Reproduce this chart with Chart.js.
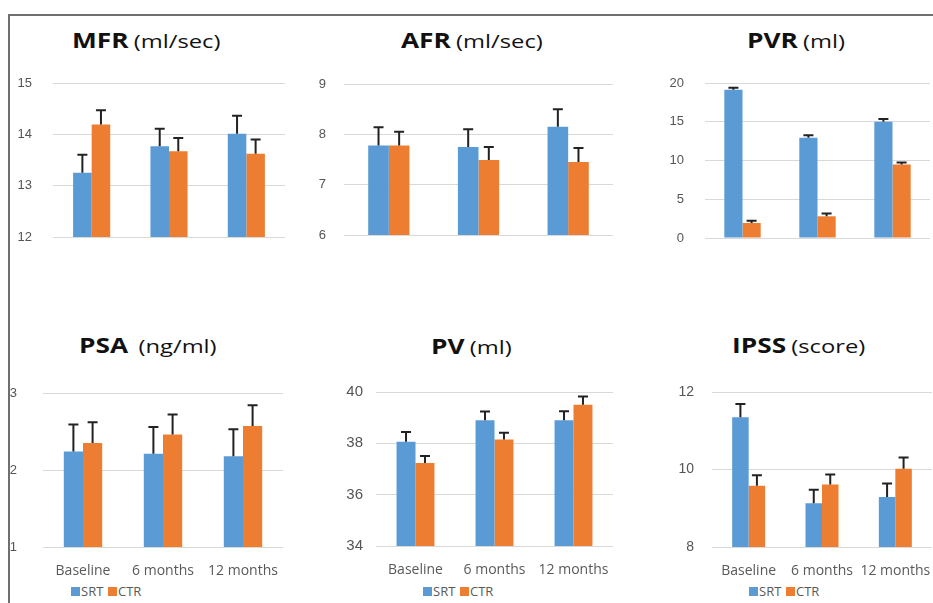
<!DOCTYPE html>
<html lang="en">
<head>
<meta charset="UTF-8">
<title>SRT vs CTR outcomes</title>
<style>
  body { margin:0; background:#fff; width:933px; height:603px; position:relative; overflow:hidden; font-family:'Open Sans', sans-serif; }
  .frame { position:absolute; left:8px; top:14px; width:940px; height:600px; border-top:2px solid #6f6f6f; border-left:2px solid #6f6f6f; }
  .box { position:absolute; }
  .ttl { position:absolute; white-space:nowrap; transform:scaleX(1.25); transform-origin:left top; color:#111; line-height:21px; }
  .ttl b { font-size:21px; font-weight:700; }
  .ttl span { font-size:19px; }
  .lg { position:absolute; font-size:13px; color:#595959; line-height:16px; }
  .sq { position:absolute; width:9px; height:9px; }
</style>
</head>
<body>
<div class="frame"></div>

<div class="ttl" style="left:72px;top:30px"><b>MFR</b> <span>(ml/sec)</span></div>
<div class="ttl" style="left:401px;top:30px"><b>AFR</b> <span>(ml/sec)</span></div>
<div class="ttl" style="left:747px;top:30px"><b>PVR</b> <span>(ml)</span></div>
<div class="ttl" style="left:79px;top:335px"><b>PSA</b>&nbsp; <span>(ng/ml)</span></div>
<div class="ttl" style="left:431px;top:336px"><b>PV</b> <span>(ml)</span></div>
<div class="ttl" style="left:732px;top:335px"><b>IPSS</b> <span>(score)</span></div>

<div class="box" id="box-mfr"><canvas id="mfr"></canvas></div>
<div class="box" id="box-afr"><canvas id="afr"></canvas></div>
<div class="box" id="box-pvr"><canvas id="pvr"></canvas></div>
<div class="box" id="box-psa"><canvas id="psa"></canvas></div>
<div class="box" id="box-pv"><canvas id="pv"></canvas></div>
<div class="box" id="box-ipss"><canvas id="ipss"></canvas></div>

<div id="legends"></div>

<script src="https://cdn.jsdelivr.net/npm/chart.js"></script>
<script>
  // categories and series
  const categories = ['Baseline', '6 months', '12 months'];
  const seriesNames = ['SRT', 'CTR'];
  const seriesColors = ['#5B9BD5', '#ED7D31'];

  // values (mean and upper error)
  const mfrSRT = [13.25, 13.77, 14.01];
  const mfrSRTErr = [0.35, 0.34, 0.35];
  const mfrCTR = [14.19, 13.67, 13.62];
  const mfrCTRErr = [0.28, 0.26, 0.28];

  const afrSRT = [7.78, 7.75, 8.15];
  const afrSRTErr = [0.36, 0.35, 0.35];
  const afrCTR = [7.78, 7.49, 7.45];
  const afrCTRErr = [0.27, 0.26, 0.28];

  const pvrSRT = [19.14, 12.95, 15.0];
  const pvrSRTErr = [0.26, 0.3, 0.35];
  const pvrCTR = [1.94, 2.8, 9.47];
  const pvrCTRErr = [0.3, 0.35, 0.26];

  const psaSRT = [2.24, 2.21, 2.18];
  const psaSRTErr = [0.35, 0.35, 0.35];
  const psaCTR = [2.35, 2.46, 2.57];
  const psaCTRErr = [0.27, 0.26, 0.27];

  const pvSRT = [38.06, 38.9, 38.9];
  const pvSRTErr = [0.38, 0.34, 0.35];
  const pvCTR = [37.23, 38.15, 39.5];
  const pvCTRErr = [0.28, 0.26, 0.32];

  const ipssSRT = [11.35, 9.13, 9.29];
  const ipssSRTErr = [0.34, 0.35, 0.35];
  const ipssCTR = [9.58, 9.61, 10.02];
  const ipssCTRErr = [0.27, 0.26, 0.29];

  // axis ranges [min, max, step]
  const mfrAxis = [12, 15, 1];
  const afrAxis = [6, 9, 1];
  const pvrAxis = [0, 20, 5];
  const psaAxis = [1, 3, 1];
  const pvAxis = [34, 40, 2];
  const ipssAxis = [8, 12, 2];

  // layout of each panel (plot area in page pixels)
  const AXIS_W = 50;
  const panels = [
    { id: 'mfr',  srt: [mfrSRT, mfrSRTErr],   ctr: [mfrCTR, mfrCTRErr],   axis: mfrAxis,  plot: [53, 285, 83, 237],  pad: 21, fs: 13, cat: 0.48,  xl: false },
    { id: 'afr',  srt: [afrSRT, afrSRTErr],   ctr: [afrCTR, afrCTRErr],   axis: afrAxis,  plot: [344, 613, 84, 235], pad: 18, fs: 13, cat: 0.46,  xl: false },
    { id: 'pvr',  srt: [pvrSRT, pvrSRTErr],   ctr: [pvrCTR, pvrCTRErr],   axis: pvrAxis,  plot: [705, 930, 83, 238], pad: 21, fs: 13, cat: 0.485, xl: false },
    { id: 'psa',  srt: [psaSRT, psaSRTErr],   ctr: [psaCTR, psaCTRErr],   axis: psaAxis,  plot: [43, 283, 393, 547], pad: 26, fs: 13, cat: 0.48,  xl: true, legend: 71 },
    { id: 'pv',   srt: [pvSRT, pvSRTErr],     ctr: [pvCTR, pvCTRErr],     axis: pvAxis,   plot: [376, 613, 392, 546], pad: 13, fs: 15, cat: 0.48, xl: true, legend: 423 },
    { id: 'ipss', srt: [ipssSRT, ipssSRTErr], ctr: [ipssCTR, ipssCTRErr], axis: ipssAxis, plot: [712, 932, 392, 547], pad: 18, fs: 14, cat: 0.45, xl: true, legend: 749 }
  ];

  // upper error bars drawn through the y scale
  const errorBars = {
    id: 'errorBars',
    afterDatasetsDraw(chart) {
      const ctx = chart.ctx;
      const y = chart.scales.y;
      chart.data.datasets.forEach((ds, i) => {
        chart.getDatasetMeta(i).data.forEach((bar, j) => {
          const top = y.getPixelForValue(ds.data[j] + ds.errors[j]);
          ctx.save();
          ctx.strokeStyle = '#222';
          ctx.lineWidth = 2;
          ctx.beginPath();
          ctx.moveTo(bar.x, bar.y);
          ctx.lineTo(bar.x, top);
          ctx.moveTo(bar.x - 5, top);
          ctx.lineTo(bar.x + 5, top);
          ctx.stroke();
          ctx.restore();
        });
      });
    }
  };

  panels.forEach(p => {
    const [left, right, top, bottom] = p.plot;
    const xH = p.xl ? 30 : 0;
    const W = AXIS_W + right - left;
    const H = (bottom - top) + 10 + (p.xl ? xH : 10);
    const box = document.getElementById('box-' + p.id);
    box.style.left = (left - AXIS_W) + 'px';
    box.style.top = (top - 10) + 'px';
    const cv = document.getElementById(p.id);
    cv.width = W; cv.height = H;

    new Chart(cv, {
      type: 'bar',
      data: {
        labels: categories,
        datasets: [
          { label: seriesNames[0], data: p.srt[0], errors: p.srt[1], backgroundColor: seriesColors[0] },
          { label: seriesNames[1], data: p.ctr[0], errors: p.ctr[1], backgroundColor: seriesColors[1] }
        ]
      },
      options: {
        responsive: false,
        animation: false,
        devicePixelRatio: 1,
        categoryPercentage: p.cat,
        barPercentage: 1,
        layout: { padding: { top: 10, bottom: p.xl ? 0 : 10, left: 0, right: 0 } },
        plugins: { legend: { display: false }, tooltip: { enabled: false } },
        scales: {
          x: {
            grid: { display: false },
            border: { display: false },
            ticks: { display: p.xl, padding: 8, color: '#595959', font: { family: 'Open Sans', size: 14 }, maxRotation: 0, autoSkip: false },
            afterFit: s => { s.height = xH; s.paddingLeft = 0; s.paddingRight = 0; }
          },
          y: {
            min: p.axis[0],
            max: p.axis[1],
            ticks: { stepSize: p.axis[2], padding: p.pad, color: '#555', font: { family: 'Liberation Sans', size: p.fs } },
            grid: { color: '#d9d9d9', drawTicks: false },
            border: { display: false },
            afterFit: s => { s.width = AXIS_W; s.paddingTop = 0; s.paddingBottom = 0; }
          }
        }
      },
      plugins: [errorBars]
    });

    // legend below bottom-row charts
    if (p.xl) {
      const lg = document.getElementById('legends');
      const x0 = p.legend;
      [[x0, 0], [x0 + 37, 1]].forEach(([x, k]) => {
        const sq = document.createElement('div');
        sq.className = 'sq';
        sq.style.left = x + 'px';
        sq.style.top = '587px';
        sq.style.background = seriesColors[k];
        lg.appendChild(sq);
        const t = document.createElement('div');
        t.className = 'lg';
        t.style.left = (x + 10) + 'px';
        t.style.top = '583px';
        t.textContent = seriesNames[k];
        lg.appendChild(t);
      });
    }
  });
</script>
</body>
</html>
